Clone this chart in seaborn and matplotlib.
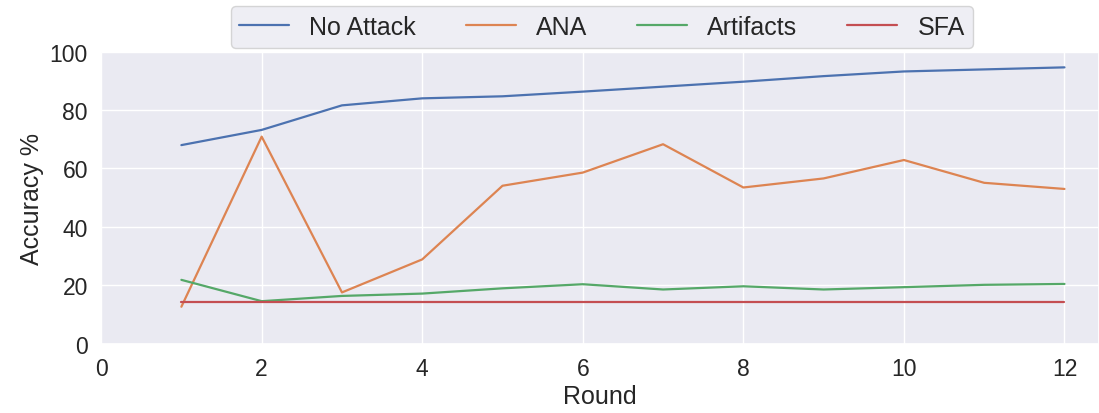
import pandas as pd
import matplotlib
matplotlib.use("Agg")
import matplotlib.pyplot as plt
import seaborn as sns

# values
rounds = list(range(1, 13))
no_attack = [68.0, 73.2, 81.6, 84.0, 84.7, 86.3, 88.0, 89.7, 91.6, 93.2, 93.9, 94.6]
ana = [12.7, 70.9, 17.6, 28.9, 54.1, 58.6, 68.3, 53.5, 56.6, 62.9, 55.1, 53.0]
artifacts = [21.9, 14.6, 16.4, 17.2, 19.0, 20.4, 18.6, 19.7, 18.6, 19.4, 20.2, 20.5]
sfa = [14.2] * 12

df = pd.DataFrame({
    "Round": rounds * 4,
    "Accuracy": no_attack + ana + artifacts + sfa,
    "Attack": ["No Attack"] * 12 + ["ANA"] * 12 + ["Artifacts"] * 12 + ["SFA"] * 12,
})

sns.set_theme(style="darkgrid")
plt.rcParams['font.family'] = ['Liberation Sans', 'DejaVu Sans']

fig, ax = plt.subplots(figsize=(10.99, 4.14), dpi=100)
sns.lineplot(data=df, x="Round", y="Accuracy", hue="Attack", ax=ax, linewidth=1.6)

ax.set_xlim(0, 12.43)
ax.set_ylim(0, 100)
ax.set_xlabel("Round", fontsize=18, labelpad=3)
ax.set_ylabel("Accuracy %", fontsize=18)
ax.tick_params(labelsize=16.5)

leg = ax.legend(loc="lower center", bbox_to_anchor=(0.502, 0.97), ncol=4,
                fontsize=18, frameon=True, handlelength=2.0, columnspacing=2.0,
                borderpad=0.35)

fig.subplots_adjust(left=0.092, right=1.0, bottom=0.167, top=0.873)
fig.savefig("out.png", dpi=100)
